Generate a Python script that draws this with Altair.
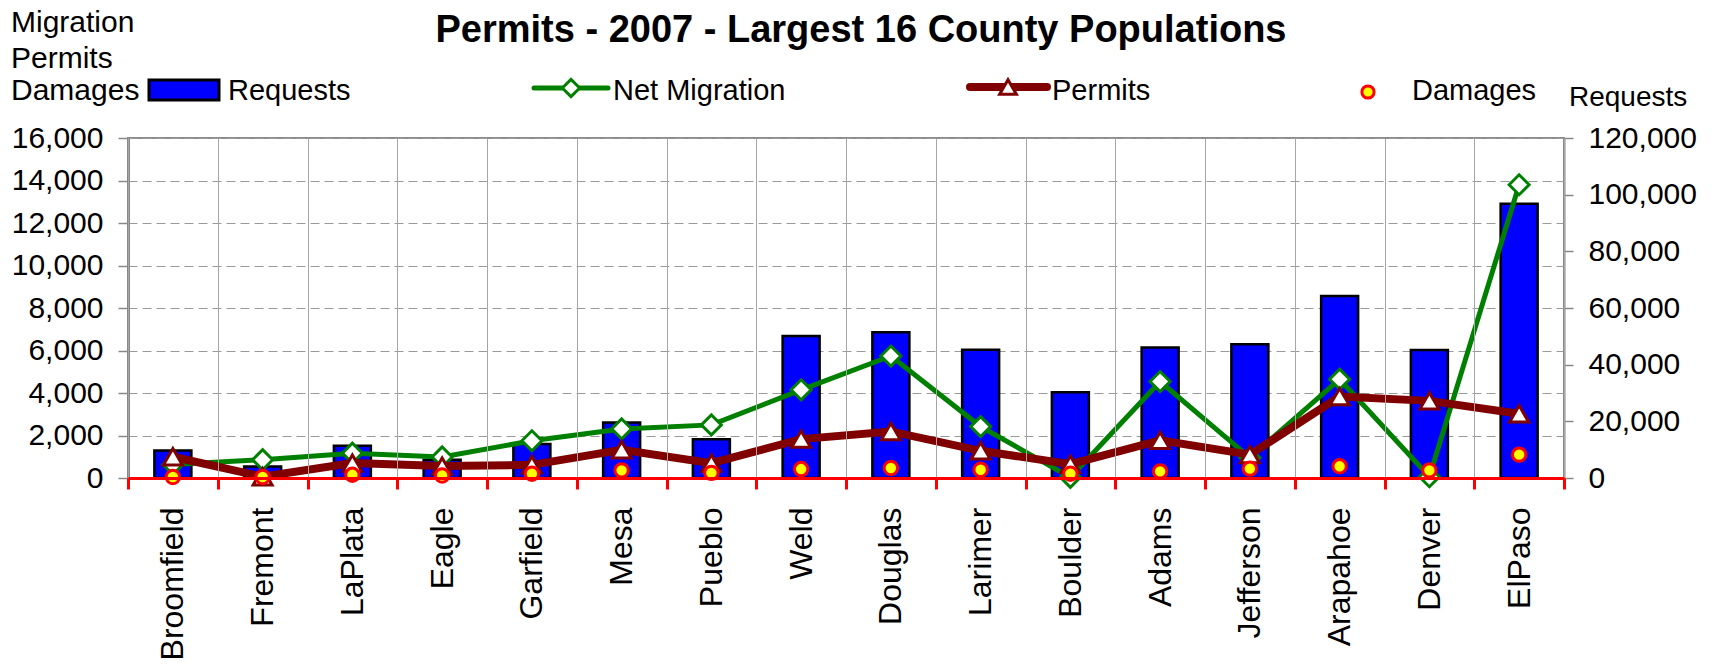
import altair as alt
import pandas as pd

counties = ["Broomfield", "Fremont", "LaPlata", "Eagle", "Garfield", "Mesa", "Pueblo", "Weld",
            "Douglas", "Larimer", "Boulder", "Adams", "Jefferson", "Arapahoe", "Denver", "ElPaso"]
requests = [9700, 4100, 11400, 6400, 12000, 19600, 13700, 50100,
            51400, 45300, 30300, 46100, 47200, 64200, 45200, 96800]
net_migration = [630, 860, 1170, 990, 1750, 2310, 2500, 4150,
                 5740, 2420, 30, 4540, 950, 4650, 60, 13800]
permits = [1000, 60, 700, 560, 620, 1330, 700, 1830,
           2190, 1280, 650, 1770, 1100, 3830, 3630, 3020]
damages = [45, 45, 150, 120, 200, 360, 240, 420,
           470, 390, 200, 310, 440, 550, 360, 1100]

left_ticks = [0, 2000, 4000, 6000, 8000, 10000, 12000, 14000, 16000]
right_ticks = [0, 20000, 40000, 60000, 80000, 100000, 120000]

df = pd.DataFrame({
    "County": counties,
    "Requests": requests,
    "Net Migration": net_migration,
    "Permits": permits,
    "Damages": damages,
})

FONT = "Liberation Sans"
GREEN = "#008000"
MAROON = "#800000"

x_enc = alt.X(
    "County:N", sort=counties, title=None,
    scale=alt.Scale(paddingInner=0, paddingOuter=0),
    axis=alt.Axis(
        labelAngle=270, labelAlign="right", labelBaseline="middle",
        labelFontSize=32, labelFont=FONT, labelColor="black", labelPadding=18,
        labelLimit=0, domainColor="red", domainWidth=3, tickColor="red",
        tickWidth=3, tickSize=11, tickBand="extent", grid=True,
        gridColor="#a6a6a6", gridWidth=1, zindex=1,
    ),
)

left_scale = alt.Scale(domain=[0, 16000], nice=False, zero=False)
left_axis = alt.Axis(
    orient="left", values=left_ticks, format=",.0f", title=None,
    labelFontSize=30, labelFont=FONT, labelColor="black", labelPadding=15,
    tickSize=10, tickColor="#888888", tickWidth=1.5,
    domainColor="#888888", domainWidth=3,
    grid=True, gridColor="#9a9a9a", gridDash=[9, 5], gridWidth=1,
)
right_axis = alt.Axis(
    orient="right", values=right_ticks, format=",.0f", title=None,
    labelFontSize=30, labelFont=FONT, labelColor="black", labelPadding=15,
    tickSize=9, tickColor="#888888", tickWidth=1.5,
    domainColor="#888888", domainWidth=2, grid=False,
)

base = alt.Chart(df)

bars = base.mark_bar(size=37, color="#0000FF", stroke="black", strokeWidth=2.5).encode(
    x=x_enc,
    y=alt.Y("Requests:Q", scale=alt.Scale(domain=[0, 120000], nice=False), axis=right_axis),
)

mig_line = base.mark_line(color=GREEN, strokeWidth=5).encode(
    x=x_enc, y=alt.Y("Net Migration:Q", scale=left_scale, axis=left_axis))
mig_pts = base.mark_point(shape="diamond", size=400, filled=True, fill="white",
                          stroke=GREEN, strokeWidth=3, opacity=1).encode(
    x=x_enc, y=alt.Y("Net Migration:Q", scale=left_scale, axis=None))
per_line = base.mark_line(color=MAROON, strokeWidth=8).encode(
    x=x_enc, y=alt.Y("Permits:Q", scale=left_scale, axis=None))
per_pts = base.mark_point(shape="triangle-up", size=360, filled=True, fill="white",
                          stroke=MAROON, strokeWidth=3, opacity=1).encode(
    x=x_enc, y=alt.Y("Permits:Q", scale=left_scale, axis=None))
dmg_pts = base.mark_point(shape="circle", size=180, filled=True, fill="#FFFF00",
                          stroke="#FF0000", strokeWidth=3, opacity=1).encode(
    x=x_enc, y=alt.Y("Damages:Q", scale=left_scale, axis=None))

one = pd.DataFrame({"k": [0]})


def txt(s, x, y, size, weight="normal", align="left"):
    return alt.Chart(pd.DataFrame({"t": [s]})).mark_text(
        align=align, baseline="alphabetic", fontSize=size, font=FONT,
        fontWeight=weight, color="black").encode(
        x=alt.value(x), y=alt.value(y), text="t:N")


decor = [
    txt("Permits - 2007 - Largest 16 County Populations", 733, -96, 38, "bold", "center"),
    txt("Migration", -117, -106, 30),
    txt("Permits", -117, -70, 30),
    txt("Damages", -117, -38, 30),
    txt("Requests", 1441, -32, 28),
    # legend
    alt.Chart(one).mark_rect(fill="#0000FF", stroke="black", strokeWidth=3).encode(
        x=alt.value(21), x2=alt.value(91), y=alt.value(-58), y2=alt.value(-38)),
    txt("Requests", 100, -38, 29),
    alt.Chart(one).mark_rule(color=GREEN, strokeWidth=5, strokeCap="round").encode(
        x=alt.value(406), x2=alt.value(480), y=alt.value(-50)),
    alt.Chart(one).mark_point(shape="diamond", size=300, filled=True, fill="white",
                              stroke=GREEN, strokeWidth=3, opacity=1).encode(
        x=alt.value(443), y=alt.value(-50)),
    txt("Net Migration", 485, -38, 29),
    alt.Chart(one).mark_rule(color=MAROON, strokeWidth=8, strokeCap="round").encode(
        x=alt.value(842), x2=alt.value(919), y=alt.value(-51)),
    alt.Chart(one).mark_point(shape="triangle-up", size=280, filled=True, fill="white",
                              stroke=MAROON, strokeWidth=3, opacity=1).encode(
        x=alt.value(880), y=alt.value(-51)),
    txt("Permits", 924, -38, 29),
    alt.Chart(one).mark_point(shape="circle", size=150, filled=True, fill="#FFFF00",
                              stroke="#FF0000", strokeWidth=3, opacity=1).encode(
        x=alt.value(1240), y=alt.value(-46)),
    txt("Damages", 1284, -38, 29),
]

chart = alt.layer(bars, mig_line, mig_pts, per_line, per_pts, dmg_pts, *decor).resolve_scale(
    y="independent"
).properties(
    width=1436, height=340,
    padding={"left": 120, "top": 130, "right": 140, "bottom": 180},
    autosize=alt.AutoSizeParams(type="none"),
    background="white",
).configure_view(stroke="#8c8c8c", strokeWidth=2)

chart.save("out.html", embed_options={"renderer": "svg", "actions": False})
